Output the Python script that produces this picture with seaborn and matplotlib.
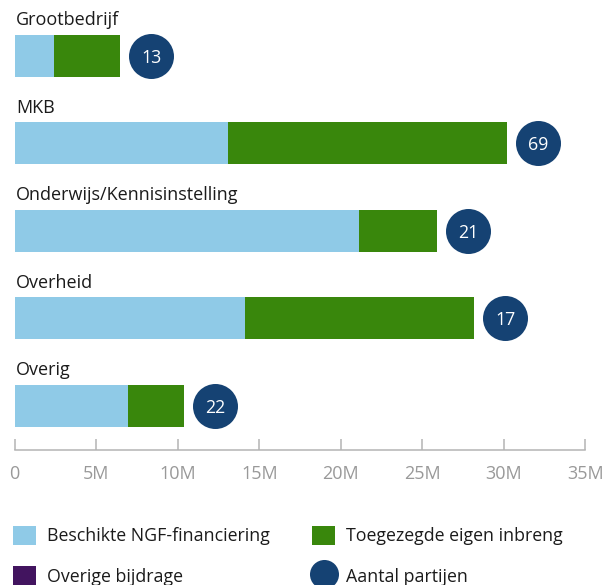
import numpy as np
import pandas as pd
import matplotlib
matplotlib.use("Agg")
import matplotlib.pyplot as plt
import matplotlib.transforms as mtransforms
from matplotlib.patches import Patch
from matplotlib.lines import Line2D
from matplotlib.ticker import FixedLocator, FuncFormatter
import seaborn as sns

# Financing per type of party, in millions of euros
categories = ["Grootbedrijf", "MKB", "Onderwijs/Kennisinstelling", "Overheid", "Overig"]
ngf_financiering = [2.41, 13.09, 21.12, 14.13, 6.95]
eigen_inbreng = [4.05, 17.11, 4.79, 14.05, 3.44]
overige_bijdrage = [0.0, 0.0, 0.0, 0.0, 0.0]
aantal_partijen = [13, 69, 21, 17, 22]
x_ticks = [0, 5, 10, 15, 20, 25, 30, 35]

LIGHT_BLUE = "#8fcae7"
GREEN = "#39870c"
PURPLE = "#42145f"
DARK_BLUE = "#154273"
AXIS_GREY = "#b4b4b4"
TICK_GREY = "#999999"
TEXT = "#1b1b1b"

sns.set_theme(style="white")
plt.rcParams["font.family"] = ["Open Sans", "DejaVu Sans"]

df = pd.DataFrame({
    "categorie": categories,
    "ngf": ngf_financiering,
    "eigen": eigen_inbreng,
    "overig": overige_bijdrage,
    "partijen": aantal_partijen,
})
df["tot_eigen"] = df["ngf"] + df["eigen"]
df["tot_all"] = df["tot_eigen"] + df["overig"]

fig = plt.figure(figsize=(6.06, 5.85), dpi=100)
ax = fig.add_axes([14.7 / 606, 1 - 450 / 585, 570.6 / 606, 450 / 585])

bar_w = 0.48
common = dict(orient="h", width=bar_w, saturation=1, linewidth=0, ax=ax)
# stacked bars: draw cumulative totals back to front
sns.barplot(data=df, x="tot_all", y="categorie", color=PURPLE, **common)
sns.barplot(data=df, x="tot_eigen", y="categorie", color=GREEN, **common)
sns.barplot(data=df, x="ngf", y="categorie", color=LIGHT_BLUE, **common)

pos = np.arange(len(categories))

# party-count badges just right of each bar
badge_tr = mtransforms.offset_copy(ax.transData, fig=fig, x=22.3, y=0, units="points")
ax.scatter(df["tot_all"], pos, s=1050, color=DARK_BLUE, linewidths=0,
           transform=badge_tr, zorder=5, clip_on=False)
for i, (tot, n) in enumerate(zip(df["tot_all"], df["partijen"])):
    ax.annotate(str(n), xy=(tot, i), xytext=(22.3, 0), textcoords="offset points",
                ha="center", va="center_baseline", color="white", fontsize=12.8,
                zorder=6, annotation_clip=False)

# category labels above each bar
for i, name in enumerate(categories):
    ax.annotate(name, xy=(0, i - 0.35), xytext=(1, 0), textcoords="offset points",
                ha="left", va="baseline", color=TEXT, fontsize=13,
                annotation_clip=False)

ax.set_xlim(0, 35)
ax.set_ylim(4.507, -0.64)
ax.set_xlabel("")
ax.set_ylabel("")
ax.set_yticks([])
ax.xaxis.set_major_locator(FixedLocator(x_ticks))
ax.xaxis.set_major_formatter(FuncFormatter(lambda v, _: "0" if v == 0 else f"{v:.0f}M"))
ax.tick_params(axis="x", direction="in", length=8, width=1.1, color=AXIS_GREY,
               labelcolor=TICK_GREY, labelsize=13, pad=11, bottom=True)
for side in ("top", "right", "left"):
    ax.spines[side].set_visible(False)
ax.spines["bottom"].set_color(AXIS_GREY)
ax.spines["bottom"].set_linewidth(1.1)
ax.patch.set_alpha(0)

# legend, two columns
leg_fs = 12.8
fs_px = leg_fs * 100 / 72
leg_kw = dict(loc="upper left", frameon=False, fontsize=leg_fs,
              handlelength=23 / fs_px, handleheight=22 / fs_px,
              handletextpad=11 / fs_px, labelspacing=21 / fs_px,
              borderpad=0, borderaxespad=0, labelcolor=TEXT)
h1 = [Patch(color=LIGHT_BLUE, lw=0), Patch(color=PURPLE, lw=0)]
leg1 = fig.legend(h1, ["Beschikte NGF-financiering", "Overige bijdrage"],
                  bbox_to_anchor=(12.7 / 606, 1 - 526 / 585), **leg_kw)
h2 = [Patch(color=GREEN, lw=0),
      Line2D([], [], ls="none", marker="o", markersize=20.9,
             markerfacecolor=DARK_BLUE, markeredgewidth=0)]
leg2 = fig.legend(h2, ["Toegezegde eigen inbreng", "Aantal partijen"],
                  bbox_to_anchor=(312.3 / 606, 1 - 526 / 585), **leg_kw)

fig.savefig("out.png", dpi=100, facecolor="white")
